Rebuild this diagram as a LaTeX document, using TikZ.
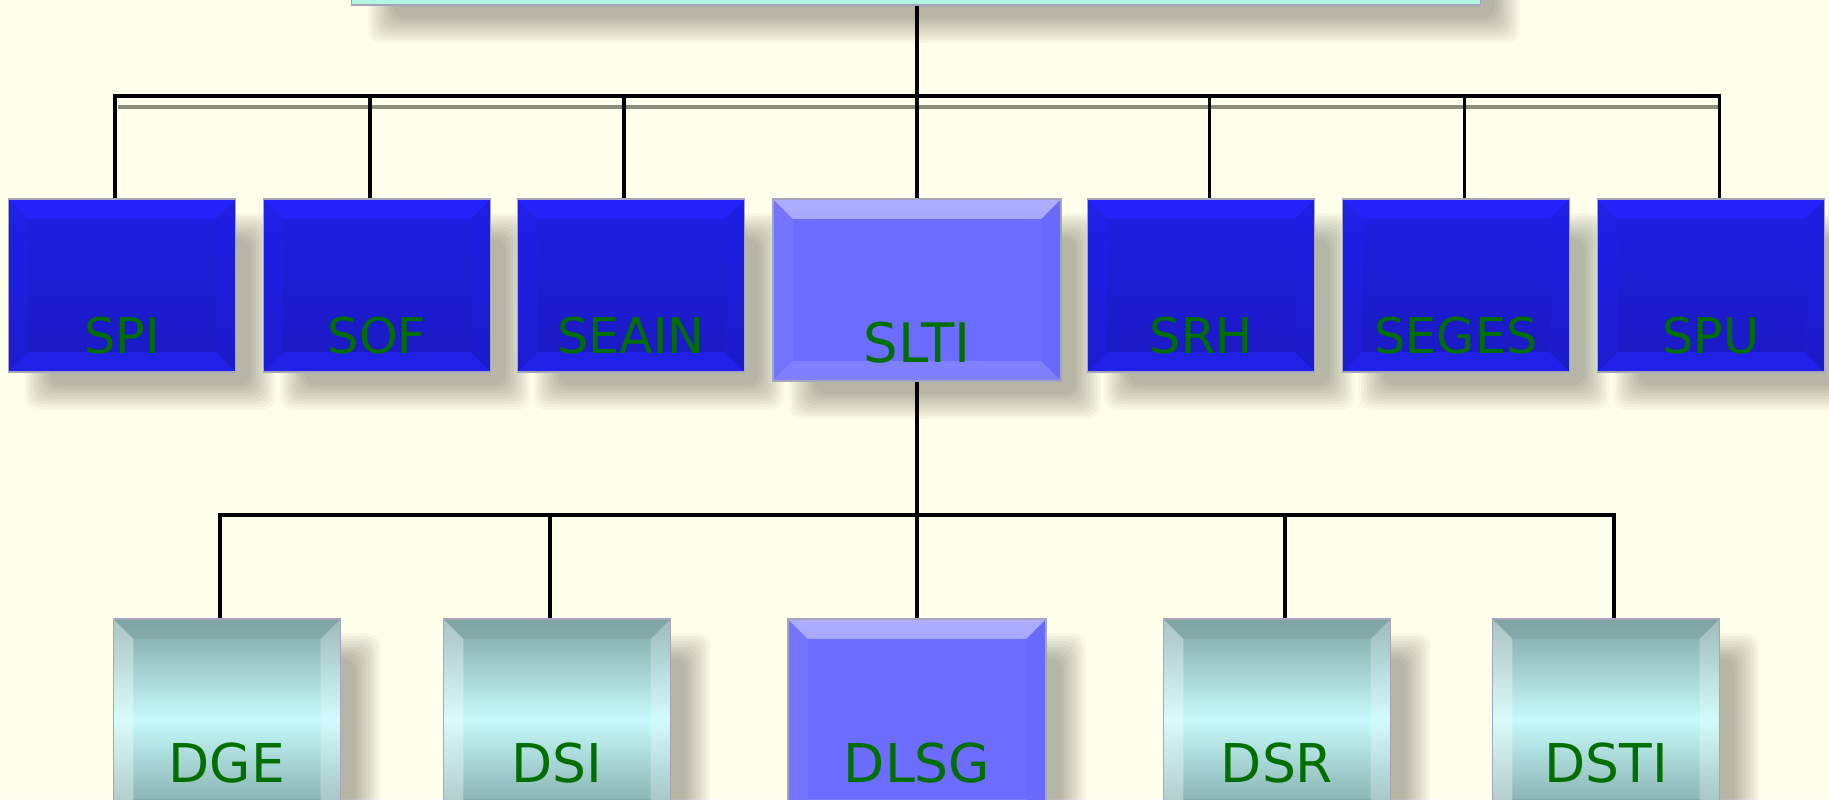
\documentclass[tikz,border=0pt]{standalone}
\usepackage{fontspec}
\setsansfont{DejaVu Sans}
\definecolor{paper}{HTML}{FFFFEB}
\definecolor{leaf}{HTML}{006F00}
\definecolor{rim}{HTML}{A4A4BC}
\definecolor{unittop}{HTML}{1F1FE2}
\definecolor{unitbot}{HTML}{1A1AC2}
\definecolor{unitedge}{HTML}{2424FF}
\definecolor{paleblue}{HTML}{6C6CFF}
\definecolor{tealdark}{HTML}{7FA4A4}
\definecolor{teallight}{HTML}{C6FAFA}
\definecolor{rootaqua}{HTML}{B3F7E3}
\definecolor{busgray}{HTML}{8C8C7C}
\pgfdeclarelayer{shadowlayer}
\pgfsetlayers{shadowlayer,main}

\newcommand\bevelfaces[4]{%
  \path[#1] (path picture bounding box.north west) -- (path picture bounding box.north east)
    -- ([shift={(-20,20)}]path picture bounding box.north east) -- ([shift={(20,20)}]path picture bounding box.north west) -- cycle;
  \path[#2] (path picture bounding box.north east) -- (path picture bounding box.south east)
    -- ([shift={(-20,-20)}]path picture bounding box.south east) -- ([shift={(-20,20)}]path picture bounding box.north east) -- cycle;
  \path[#3] (path picture bounding box.south east) -- (path picture bounding box.south west)
    -- ([shift={(20,-20)}]path picture bounding box.south west) -- ([shift={(-20,-20)}]path picture bounding box.south east) -- cycle;
  \path[#4] (path picture bounding box.south west) -- (path picture bounding box.north west)
    -- ([shift={(20,20)}]path picture bounding box.north west) -- ([shift={(20,-20)}]path picture bounding box.south west) -- cycle;}

\begin{document}
\begin{tikzpicture}[x=.01cm,y=-.01cm,font=\sffamily,text=leaf,
  wire/.style={line width=.95pt,black},
  haze/.style={black,fill opacity=.032,rounded corners=.12cm},
  box/.style={draw=rim,line width=.4pt,inner sep=0pt},
  unit/.style={box,minimum width=2.27cm,text height=1.54cm,text depth=.19cm,
    top color=unittop,bottom color=unitbot,font=\sffamily\fontsize{14}{14}\selectfont,
    path picture={\bevelfaces{fill=unitedge,fill opacity=.8}{fill=unitedge,fill opacity=.12}{fill=unitedge,fill opacity=.6}{fill=unitedge,fill opacity=.25}}},
  pale/.style={box,minimum width=#1,text height=1.63cm,text depth=.19cm,fill=paleblue,
    font=\sffamily\fontsize{15.5}{15.5}\selectfont,
    path picture={\bevelfaces{top color=white!45!paleblue,bottom color=paleblue}{fill=black,fill opacity=.02}{fill=white,fill opacity=.14}{fill=white,fill opacity=.06}}},
  dept/.style={box,minimum width=2.27cm,text height=1.63cm,text depth=.37cm,
    top color=tealdark,bottom color=tealdark,middle color=teallight,font=\sffamily\fontsize{15.2}{15.2}\selectfont,
    path picture={\bevelfaces{fill=tealdark,fill opacity=.6}{fill=white,fill opacity=.25}{fill=tealdark,fill opacity=.5}{fill=white,fill opacity=.35}}}]
  \begin{pgfonlayer}{shadowlayer}
    \fill[paper] (0,0) rectangle (1829,799);
  \end{pgfonlayer}
  \useasboundingbox (0,0) rectangle (1829,799);

  \node[box,fill=rootaqua,minimum width=11.28cm,minimum height=.9cm] (root) at (916,-40) {};

  \node[unit] (spi) at (122,285.5) {SPI};
  \node[unit] (sof) at (377,285.5) {SOF};
  \node[unit] (seain) at (631,285.5) {SEAIN};
  \node[pale=2.88cm] (slti) at (917,290) {SLTI};
  \node[unit] (srh) at (1201,285.5) {SRH};
  \node[unit] (seges) at (1456,285.5) {SEGES};
  \node[unit] (spu) at (1711,285.5) {SPU};

  \node[dept] (dge) at (227,719) {DGE};
  \node[dept] (dsi) at (557,719) {DSI};
  \node[pale=2.58cm,text depth=.37cm,font=\sffamily\fontsize{15.2}{15.2}\selectfont] (dlsg) at (917,719) {DLSG};
  \node[dept] (dsr) at (1277,719) {DSR};
  \node[dept] (dsti) at (1606,719) {DSTI};

  \begin{pgfonlayer}{shadowlayer}
    \foreach \n in {root,spi,sof,seain,slti,srh,seges,spu,dge,dsi,dlsg,dsr,dsti}
      \foreach \e in {-14,-11.2,...,14}
        \fill[haze] ([shift={(28-\e,26-\e)}]\n.north west) rectangle ([shift={(28+\e,26+\e)}]\n.south east);
  \end{pgfonlayer}

  \coordinate (hubtop) at (917,96);
  \coordinate (hubmid) at (917,515);

  \draw[busgray,line width=1.4pt] (118,107) -- (1718,107);
  \draw[wire] ([xshift=-.07cm]spi.north) |- (hubtop) -| ([xshift=.085cm]spu.north);
  \foreach \n/\s in {sof/-.07,seain/-.07,srh/.085,seges/.085}
    \draw[wire] ([xshift=\s cm]\n.north) -- ([xshift=\s cm]\n.north |- hubtop);
  \draw[wire] (root.south -| slti.north) -- (slti.north);

  \draw[wire] (slti.south) -- (dlsg.north);
  \draw[wire] ([xshift=-.07cm]dge.north) |- (hubmid) -| ([xshift=.08cm]dsti.north);
  \foreach \n/\s in {dsi/-.07,dsr/.08}
    \draw[wire] ([xshift=\s cm]\n.north) -- ([xshift=\s cm]\n.north |- hubmid);
\end{tikzpicture}
\end{document}
